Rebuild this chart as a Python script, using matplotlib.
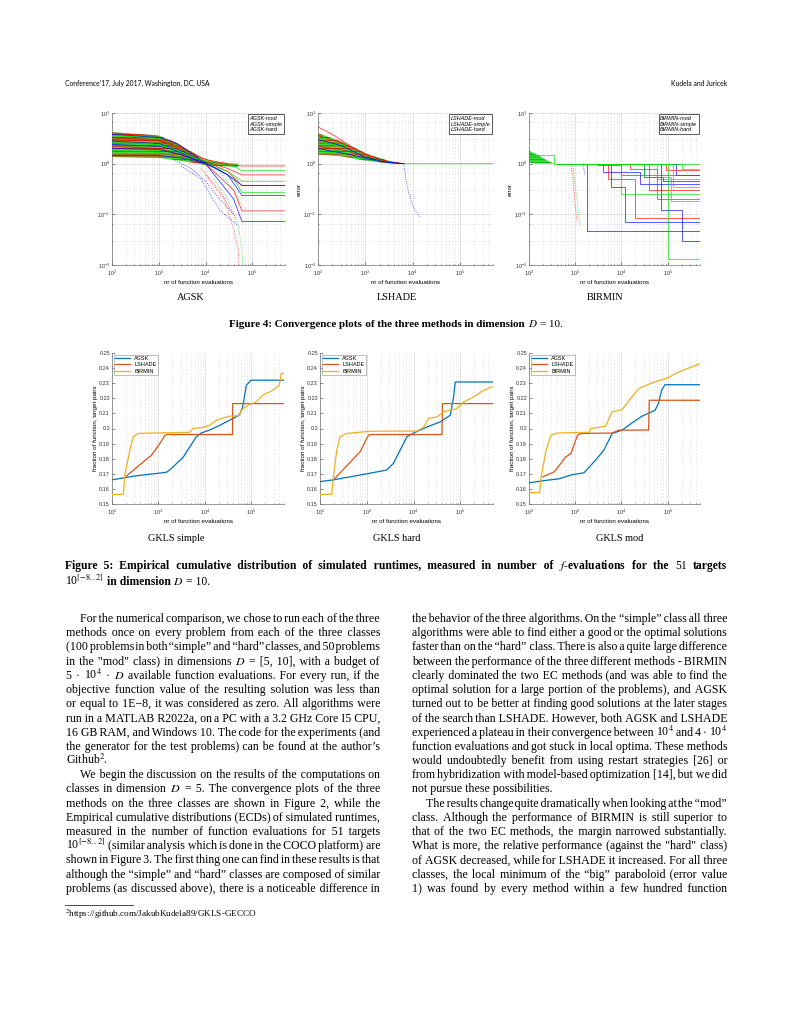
import matplotlib.pyplot as plt
from matplotlib.lines import Line2D
from matplotlib.ticker import LogLocator, NullFormatter, FuncFormatter, FixedLocator

plt.rcParams['mathtext.fontset'] = 'stix'
plt.rcParams['hatch.linewidth'] = 0.6

W, H, DPI = 791, 1024, 100
SANS = 'Liberation Sans'
SERIF = 'Liberation Serif'
SERIF_LIST = ['Liberation Serif', 'DejaVu Serif']

# ---------------- Figure 4: convergence data (evaluations, error) ----------------
classes = ['mod', 'simple', 'hard']
class_colors = {'mod': '#ff0000', 'simple': '#00e000', 'hard': '#0000ff'}

agsk_band_x = [100, 1000, 2000, 5000, 9000, 20000, 50000]
agsk_band_lo = [1.35, 1.3, 1.2, 1.05, 0.95, 0.9, 0.85]
agsk_band_hi = [4.2, 3.6, 2.8, 1.7, 1.15, 1.05, 1.0]
agsk_tr_x = [[100, 900, 2500, 8000, 20000, 60000, 500000],
             [100, 1000, 3000, 10000, 30000, 60000, 500000],
             [100, 1000, 3000, 10000, 40000, 60000, 500000],
             [100, 1000, 3000, 10000, 30000, 60000, 500000],
             [100, 1000, 3000, 10000, 40000, 60000, 500000],
             [100, 900, 2500, 9000, 30000, 60000, 500000],
             [100, 1000, 4000, 12000, 40000, 60000, 500000],
             [100, 1000, 3000, 10000, 30000, 60000, 500000],
             [100, 1000, 3000, 10000, 40000, 60000, 500000],
             [100, 1000, 3000, 10000, 30000, 60000, 500000],
             [100, 1000, 3000, 10000, 30000],
             [100, 700, 2000, 6000, 20000],
             [100, 1000, 2500, 7000],
             [100, 1000, 2000, 5000, 10000]]
agsk_tr_y = [[4.0, 3.5, 2.4, 1.3, 1.0, 0.9, 0.9],
             [3.0, 2.8, 1.9, 1.1, 0.8, 0.6, 0.6],
             [2.2, 2.0, 1.5, 1.0, 0.3, 0.117, 0.117],
             [3.2, 2.9, 2.0, 1.1, 0.7, 0.37, 0.37],
             [3.6, 3.2, 2.0, 1.1, 0.9, 0.73, 0.73],
             [1.8, 1.7, 1.4, 1.0, 0.7, 0.45, 0.45],
             [2.6, 2.4, 1.5, 1.0, 0.5, 0.27, 0.27],
             [1.45, 1.45, 1.3, 1.0, 0.6, 0.235, 0.235],
             [2.0, 1.9, 1.5, 1.0, 0.2, 0.072, 0.072],
             [2.8, 2.5, 1.8, 1.05, 0.6, 0.37, 0.37],
             [3.3, 3.0, 2.1, 1.2, 1.0],
             [2.6, 2.5, 2.0, 1.3, 1.0],
             [3.8, 3.3, 2.5, 1.3],
             [2.4, 2.2, 1.9, 1.3, 1.0]]
agsk_tr_cls = ['mod', 'mod', 'mod', 'mod', 'simple', 'simple', 'simple', 'hard', 'hard',
               'hard', 'mod', 'simple', 'hard', 'hard']
agsk_drop_x = [[2000, 5000, 10000, 20000, 40000],
               [3000, 8000, 20000, 50000],
               [10000, 25000, 40000, 50000, 52000],
               [15000, 30000, 50000, 60000, 62000],
               [8000, 20000, 45000],
               [20000, 40000, 60000]]
agsk_drop_y = [[1.2, 0.8, 0.45, 0.2, 0.1],
               [0.9, 0.5, 0.12, 0.06],
               [0.6, 0.2, 0.05, 0.02, 0.01],
               [0.5, 0.2, 0.06, 0.02, 0.01],
               [0.8, 0.3, 0.08],
               [0.7, 0.3, 0.15]]
agsk_drop_cls = ['hard', 'hard', 'mod', 'simple', 'mod', 'simple']

lshade_band_x = [100, 300, 1000, 3000, 6000]
lshade_band_lo = [1.5, 1.4, 1.15, 1.02, 1.0]
lshade_band_hi = [4.0, 2.8, 1.6, 1.15, 1.02]
lshade_tr_x = [[100, 300, 1000, 3000, 6500],
               [100, 200, 500, 1500, 5000],
               [100, 400, 1200, 4000],
               [100, 300, 1000, 3000, 6500, 500000],
               [100, 400, 1500, 5000],
               [100, 300, 1000, 3000, 6500],
               [100, 500, 2000, 6500]]
lshade_tr_y = [[3.6, 2.6, 1.5, 1.1, 1.0],
               [5.3, 3.8, 2.2, 1.3, 1.0],
               [2.2, 1.8, 1.3, 1.03],
               [2.8, 2.2, 1.4, 1.05, 1.0, 1.0],
               [1.8, 1.5, 1.15, 1.0],
               [3.0, 2.3, 1.35, 1.05, 1.0],
               [2.0, 1.5, 1.1, 1.0]]
lshade_tr_cls = ['mod', 'mod', 'mod', 'simple', 'simple', 'hard', 'hard']
lshade_drop_x = [[6500, 7000, 8000, 10000, 14000]]
lshade_drop_y = [[1.0, 0.6, 0.3, 0.15, 0.09]]
lshade_drop_cls = ['hard']

birmin_band_x = [100, 150, 250, 350]
birmin_band_lo = [1.05, 1.0, 1.0, 1.0]
birmin_band_hi = [1.8, 1.5, 1.15, 1.0]
birmin_st_x = [[100, 350, 500000],
               [400, 1800, 500000],
               [400, 4000, 25000, 500000],
               [400, 6000, 12000, 500000],
               [400, 30000, 80000, 500000],
               [400, 150000, 500000],
               [400, 70000, 200000, 500000],
               [400, 5000, 20000, 500000],
               [400, 3000, 10000, 500000],
               [400, 40000, 500000],
               [400, 90000, 500000],
               [400, 15000, 60000, 500000],
               [400, 100000, 500000],
               [400, 30000, 120000, 500000],
               [400, 130000, 500000],
               [400, 60000, 500000],
               [400, 10000, 500000],
               [400, 200000, 500000]]
birmin_st_y = [[1.5, 1.0, 1.0],
               [1.0, 0.046, 0.046],
               [1.0, 0.7, 0.4, 0.4],
               [1.0, 0.35, 0.07, 0.07],
               [1.0, 0.55, 0.45, 0.45],
               [1.0, 0.6, 0.6],
               [1.0, 0.12, 0.03, 0.03],
               [1.0, 0.5, 0.085, 0.085],
               [1.0, 0.95, 0.6, 0.6],
               [1.0, 0.3, 0.3],
               [1.0, 0.75, 0.75],
               [1.0, 0.8, 0.2, 0.2],
               [1.0, 0.013, 0.013],
               [1.0, 0.55, 0.18, 0.18],
               [1.0, 0.35, 0.35],
               [1.0, 0.5, 0.5],
               [1.0, 0.25, 0.25],
               [1.0, 0.8, 0.8]]
birmin_st_cls = ['simple', 'hard', 'hard', 'hard', 'hard', 'hard', 'hard', 'mod', 'mod', 'mod',
                 'mod', 'mod', 'simple', 'simple', 'simple', 'simple', 'simple', 'simple']
birmin_drop_x = [[800, 900, 1000, 1100], [900, 1000, 1150, 1300], [1500, 1600]]
birmin_drop_y = [[1.0, 0.5, 0.15, 0.07], [0.9, 0.4, 0.12, 0.055], [1.0, 0.6]]
birmin_drop_cls = ['mod', 'simple', 'hard']

# ---------------- Figure 5: ECDF data (evaluations, fraction) ----------------
methods = ['AGSK', 'LSHADE', 'BIRMIN']
method_colors = {'AGSK': '#0072BD', 'LSHADE': '#D95319', 'BIRMIN': '#EDB120'}

simple_x = {
    'AGSK': [100, 300, 1480, 1740, 3400, 6500, 8300, 12600, 20400, 33900, 55000, 64600, 77600, 97700, 500000],
    'LSHADE': [204, 708, 1070, 1380, 1500, 38900, 39500, 500000],
    'BIRMIN': [100, 175, 190, 243, 287, 366, 769, 4680, 5510, 9100, 12600, 17500, 33600, 55000,
               60000, 83000, 126000, 175000, 288000, 398000, 434000, 500000]}
simple_y = {
    'AGSK': [0.166, 0.1685, 0.171, 0.1725, 0.181, 0.1945, 0.197, 0.199, 0.202, 0.2055, 0.209, 0.2143,
             0.2287, 0.232, 0.232],
    'LSHADE': [0.1685, 0.1824, 0.19, 0.1956, 0.196, 0.196, 0.2165, 0.2165],
    'BIRMIN': [0.1564, 0.1564, 0.170, 0.1857, 0.1945, 0.1967, 0.197, 0.1975, 0.2, 0.2007, 0.2022, 0.2055,
               0.2082, 0.2085, 0.212, 0.2154, 0.2176, 0.222, 0.2253, 0.2287, 0.2363, 0.2368]}

hard_x = {
    'AGSK': [100, 193, 1000, 2680, 3730, 5180, 7200, 10000, 19300, 37300, 61000, 72000, 78000, 500000],
    'LSHADE': [193, 720, 1090, 1290, 40500, 41500, 500000],
    'BIRMIN': [100, 178, 193, 229, 268, 373, 1170, 11800, 16300, 20900, 31600, 43900, 85000, 118000,
               194000, 316000, 500000]}
hard_y = {
    'AGSK': [0.1648, 0.166, 0.17, 0.1725, 0.177, 0.1857, 0.1945, 0.197, 0.201, 0.2044, 0.2088, 0.221,
             0.2308, 0.2308],
    'LSHADE': [0.1659, 0.1846, 0.1956, 0.196, 0.196, 0.2165, 0.2165],
    'BIRMIN': [0.1564, 0.1564, 0.168, 0.1857, 0.1945, 0.1967, 0.1982, 0.1983, 0.2007, 0.2066, 0.2077,
               0.211, 0.2132, 0.2176, 0.221, 0.2253, 0.2278]}

mod_x = {
    'AGSK': [100, 200, 452, 808, 1550, 2770, 4170, 6290, 10300, 16900, 27600, 53500, 63000, 74000,
             87000, 500000],
    'LSHADE': [200, 355, 631, 808, 1120, 1320, 6290, 8710, 38700, 40000, 500000],
    'BIRMIN': [100, 169, 183, 235, 300, 417, 2000, 2170, 4530, 6290, 10300, 16900, 23600, 45400,
               103000, 170000, 326000, 460000, 500000]}
mod_y = {
    'AGSK': [0.164, 0.1654, 0.1667, 0.1692, 0.1707, 0.1791, 0.1857, 0.1967, 0.1989, 0.2037, 0.2081,
             0.2121, 0.2165, 0.2253, 0.229, 0.229],
    'LSHADE': [0.168, 0.1714, 0.1813, 0.1835, 0.1956, 0.1967, 0.197, 0.1989, 0.199, 0.2187, 0.2187],
    'BIRMIN': [0.1575, 0.1575, 0.168, 0.1857, 0.1956, 0.197, 0.1975, 0.2, 0.2015, 0.211, 0.2125, 0.221,
               0.2264, 0.2302, 0.2337, 0.2374, 0.2407, 0.2425, 0.2428]}

# ---------------- page text ----------------
left_col = [
    "For the numerical comparison, we chose to run each of the three",
    "methods once on every problem from each of the three classes",
    "(100 problems in both “simple” and “hard” classes, and 50 problems",
    "in the \"mod\" class) in dimensions $D$ = [5, 10], with a budget of",
    "5 · 10$^4$ · $D$ available function evaluations. For every run, if the",
    "objective function value of the resulting solution was less than",
    "or equal to 1E−8, it was considered as zero. All algorithms were",
    "run in a MATLAB R2022a, on a PC with a 3.2 GHz Core I5 CPU,",
    "16 GB RAM, and Windows 10. The code for the experiments (and",
    "the generator for the test problems) can be found at the author’s",
    "Github$^2$.",
    "We begin the discussion on the results of the computations on",
    "classes in dimension $D$ = 5. The convergence plots of the three",
    "methods on the three classes are shown in Figure 2, while the",
    "Empirical cumulative distributions (ECDs) of simulated runtimes,",
    "measured in the number of function evaluations for 51 targets",
    "10$^{[-8..2]}$ (similar analysis which is done in the COCO platform) are",
    "shown in Figure 3. The first thing one can find in these results is that",
    "although the “simple” and “hard” classes are composed of similar",
    "problems (as discussed above), there is a noticeable difference in",
]
left_indent = {0, 11}
left_last = {10}

right_col = [
    "the behavior of the three algorithms. On the “simple” class all three",
    "algorithms were able to find either a good or the optimal solutions",
    "faster than on the “hard” class. There is also a quite large difference",
    "between the performance of the three different methods - BIRMIN",
    "clearly dominated the two EC methods (and was able to find the",
    "optimal solution for a large portion of the problems), and AGSK",
    "turned out to be better at finding good solutions at the later stages",
    "of the search than LSHADE. However, both AGSK and LSHADE",
    "experienced a plateau in their convergence between 10$^4$ and 4 · 10$^4$",
    "function evaluations and got stuck in local optima. These methods",
    "would undoubtedly benefit from using restart strategies [26] or",
    "from hybridization with model-based optimization [14], but we did",
    "not pursue these possibilities.",
    "The results change quite dramatically when looking at the “mod”",
    "class. Although the performance of BIRMIN is still superior to",
    "that of the two EC methods, the margin narrowed substantially.",
    "What is more, the relative performance (against the \"hard\" class)",
    "of AGSK decreased, while for LSHADE it increased. For all three",
    "classes, the local minimum of the “big” paraboloid (error value",
    "1) was found by every method within a few hundred function",
]
right_indent = {13}
right_last = {12}

# ---------------- drawing ----------------
fig = plt.figure(figsize=(W / DPI, H / DPI), dpi=DPI)
renderer = fig.canvas.get_renderer()


def px_axes(l, t, r, b):
    return fig.add_axes([l / W, 1 - b / H, (r - l) / W, (b - t) / H])


def style_axes(ax):
    for s in ['top', 'right']:
        ax.spines[s].set_visible(False)
    for s in ['left', 'bottom']:
        ax.spines[s].set_color('0.45')
        ax.spines[s].set_linewidth(0.5)
    ax.tick_params(which='both', direction='in', labelsize=4, pad=1.5, width=0.4, colors='0.2')
    ax.tick_params(axis='x', which='both', pad=2.8)
    ax.tick_params(which='major', length=2)
    ax.tick_params(which='minor', length=1)
    for lab in ax.get_xticklabels() + ax.get_yticklabels():
        lab.set_family(SANS)


def conv_panel(ax, name, band, tr, drops, steps=False, ylabel=True, band_hatch='red'):
    bx, blo, bhi = band
    ax.fill_between(bx, blo, bhi, facecolor='#22dd22', edgecolor=band_hatch, hatch='------',
                    linewidth=0, alpha=0.9, zorder=2)
    for x, y, c in zip(*tr):
        ax.plot(x, y, color=class_colors[c], lw=0.6, alpha=0.75, zorder=3,
                drawstyle='steps-post' if steps else 'default')
    for x, y, c in zip(*drops):
        ax.plot(x, y, color=class_colors[c], lw=0.6, ls=':', alpha=0.8, zorder=3)
    ax.set_xscale('log')
    ax.set_yscale('log')
    ax.set_xlim(100, 5e5)
    ax.set_ylim(1e-2, 1e1)
    ax.xaxis.set_major_locator(LogLocator(base=10, numticks=10))
    ax.xaxis.set_minor_locator(LogLocator(base=10, subs=(2, 3, 4, 5, 6, 7, 8, 9), numticks=20))
    ax.yaxis.set_minor_locator(LogLocator(base=10, subs=(3, 6.5), numticks=20))
    ax.xaxis.set_minor_formatter(NullFormatter())
    ax.yaxis.set_minor_formatter(NullFormatter())
    ax.grid(which='major', color='0.85', lw=0.5)
    ax.grid(which='minor', color='0.85', lw=0.4, ls=(0, (3, 3)))
    ax.set_axisbelow(True)
    ax.set_xlabel('nr of function evaluations', fontsize=4.5, family=SANS, labelpad=1)
    if ylabel:
        ax.set_ylabel('error', fontsize=4.5, family=SANS, labelpad=1)
    handles = [Line2D([], [], color=class_colors[c], lw=0) for c in classes]
    leg = ax.legend(handles, [f'{name}-{c}' for c in classes], loc='upper right', fontsize=4,
                    handlelength=0, handletextpad=0, borderpad=0.3, labelspacing=0.15,
                    fancybox=False, framealpha=1, borderaxespad=0.2)
    leg.get_frame().set_edgecolor('0.1')
    leg.get_frame().set_linewidth(0.5)
    for t in leg.get_texts():
        t.set_family(SANS)
        t.set_style('italic')
    style_axes(ax)


def ecdf_panel(ax, xs, ys):
    for m in methods:
        ax.plot(xs[m], ys[m], color=method_colors[m], lw=0.9, label=m, zorder=3)
    ax.set_xscale('log')
    ax.set_xlim(100, 5e5)
    ax.set_ylim(0.15, 0.25)
    ax.set_yticks([0.15 + 0.01 * i for i in range(11)])
    ax.yaxis.set_major_formatter(FuncFormatter(lambda v, p: f'{v:.2f}'.rstrip('0')))
    ax.yaxis.set_minor_locator(FixedLocator([0.16, 0.18, 0.2, 0.22, 0.24]))
    ax.xaxis.set_major_locator(LogLocator(base=10, numticks=10))
    ax.xaxis.set_minor_locator(LogLocator(base=10, subs=(2, 3, 4, 5, 6, 7, 8, 9), numticks=20))
    ax.xaxis.set_minor_formatter(NullFormatter())
    ax.grid(axis='y', which='minor', color='0.85', lw=0.6)
    ax.grid(axis='x', which='major', color='0.85', lw=0.5)
    ax.grid(axis='x', which='minor', color='0.85', lw=0.4, ls=(0, (3, 3)))
    ax.tick_params(axis='y', which='minor', length=0)
    ax.set_axisbelow(True)
    ax.set_xlabel('nr of function evaluations', fontsize=4.5, family=SANS, labelpad=1)
    ax.set_ylabel('fraction of function, target pairs', fontsize=4.5, family=SANS, labelpad=1)
    leg = ax.legend(loc='upper left', fontsize=4, handlelength=2.6, borderpad=0.3, labelspacing=0.2,
                    fancybox=False, framealpha=1, borderaxespad=0.3)
    leg.get_frame().set_edgecolor('0.55')
    leg.get_frame().set_linewidth(0.4)
    for t in leg.get_texts():
        t.set_family(SANS)
    style_axes(ax)


# Figure 4 panels
conv_panel(px_axes(112, 113, 285, 265), 'AGSK', (agsk_band_x, agsk_band_lo, agsk_band_hi),
           (agsk_tr_x, agsk_tr_y, agsk_tr_cls), (agsk_drop_x, agsk_drop_y, agsk_drop_cls), ylabel=False)
conv_panel(px_axes(318, 113, 493, 265), 'LSHADE', (lshade_band_x, lshade_band_lo, lshade_band_hi),
           (lshade_tr_x, lshade_tr_y, lshade_tr_cls), (lshade_drop_x, lshade_drop_y, lshade_drop_cls))
conv_panel(px_axes(529, 113, 700, 265), 'BIRMIN', (birmin_band_x, birmin_band_lo, birmin_band_hi),
           (birmin_st_x, birmin_st_y, birmin_st_cls), (birmin_drop_x, birmin_drop_y, birmin_drop_cls),
           steps=True, band_hatch='#00b000')

# Figure 5 panels
ecdf_panel(px_axes(112, 353, 284, 504), simple_x, simple_y)
ecdf_panel(px_axes(320, 353, 493, 504), hard_x, hard_y)
ecdf_panel(px_axes(529, 353, 700, 504), mod_x, mod_y)


# ---------------- text helpers ----------------
def fam_for(t):
    return SERIF if '$' in t else SERIF_LIST


def text_width(s, size, weight):
    t = fig.text(0, 0, s, fontsize=size, family=fam_for(s), weight=weight)
    w = t.get_window_extent(renderer).width
    t.remove()
    return w


def put_line(s, x0, x1, y, size, justify=True, align='left', weight='normal'):
    # words are joined by hair spaces inside runs of plain text, so each run is one text object
    items = []
    for tk in s.split(' '):
        w = weight
        if tk.startswith('!'):
            tk, w = tk[1:], 'normal'
        items.append((tk, w))
    n = len(items)
    avail = x1 - x0

    def measure(sz):
        return [text_width(t, sz, w) for t, w in items]

    ws = measure(size)
    space = text_width('n n', size, weight) - text_width('nn', size, weight)
    if justify and n > 1:
        gap = (avail - sum(ws)) / (n - 1)
        if gap < space * 0.6:
            size = size * (avail - space * 0.6 * (n - 1)) / sum(ws)
            ws = measure(size)
            gap = (avail - sum(ws)) / (n - 1)
    else:
        gap = space
    total = sum(ws) + gap * (n - 1)
    start = x0 if align == 'left' else (x0 + x1) / 2 - total / 2
    starts = []
    x = start
    for wd in ws:
        starts.append(x)
        x += wd + gap
    # group into runs
    runs = []
    for i, (t, w) in enumerate(items):
        if runs and '$' not in t and '$' not in items[i - 1][0] and w == items[i - 1][1]:
            runs[-1].append(i)
        else:
            runs.append([i])
    for run in runs:
        w = items[run[0]][1]
        hw = (text_width('n' + '\u200a' * 20 + 'n', size, w) - text_width('nn', size, w)) / 20
        txt = items[run[0]][0]
        k_prev = 0
        for j in range(1, len(run)):
            target = starts[run[j]] - starts[run[0]] - sum(ws[run[0]:run[j]])
            k = int(round(target / hw)) if hw > 0.05 else 1
            txt += '\u200a' * max(k - k_prev, 1)
            k_prev = max(k, k_prev + 1)
            txt += items[run[j]][0]
        fig.text(starts[run[0]] / W, 1 - y / H, txt, fontsize=size, family=fam_for(txt), weight=w,
                 va='baseline', ha='left')


def put_column(lines, x0, x1, y0, dy, indent, last, size):
    for i, s in enumerate(lines):
        xs = x0 + (14 if i in indent else 0)
        put_line(s, xs, x1, y0 + i * dy, size, justify=(i not in last))


# header
fig.text(65 / W, 1 - 86 / H, 'Conference’17, July 2017, Washington, DC, USA', fontsize=4.9,
         family='Lato', va='baseline', ha='left')
fig.text(727 / W, 1 - 86 / H, 'Kudela and Juricek', fontsize=4.9, family='Lato',
         va='baseline', ha='right')

# subcaptions
for label, cx in zip(['AGSK', 'LSHADE', 'BIRMIN'], [191, 397, 605]):
    fig.text(cx / W, 1 - 300 / H, label, fontsize=7.4, family=SERIF, ha='center', va='baseline')
for label, cx in zip(['GKLS simple', 'GKLS hard', 'GKLS mod'], [176, 397, 620]):
    fig.text(cx / W, 1 - 541 / H, label, fontsize=7.4, family=SERIF, ha='center', va='baseline')

put_line('Figure 4: Convergence plots of the three methods in dimension $D$ != !10.',
         65, 727, 327, 8.0, justify=False, align='center', weight='bold')
put_line('Figure 5: Empirical cumulative distribution of simulated runtimes, measured in number of '
         '$f$-evaluations for the !51 targets', 65, 727, 569, 8.4, weight='bold')
put_line('!10$^{[-8..2]}$ in dimension $D$ != !10.', 65, 727, 585, 8.4, justify=False, weight='bold')

put_column(left_col, 66, 380, 622, 14.2, left_indent, left_last, 8.6)
put_column(right_col, 412, 727, 622, 14.2, right_indent, right_last, 8.6)

# footnote
fig.add_artist(Line2D([65 / W, 133 / W], [1 - 905 / H, 1 - 905 / H], color='k', lw=0.5))
fig.text(65 / W, 1 - 917 / H, '$^2$https://github.com/JakubKudela89/GKLS-GECCO', fontsize=6.6,
         family=SERIF, va='baseline', ha='left')

fig.savefig('out.png', dpi=DPI)
